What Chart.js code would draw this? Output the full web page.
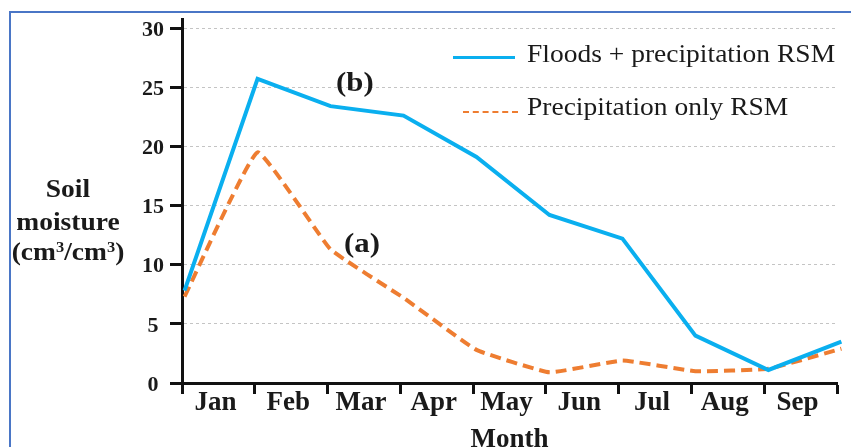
<!DOCTYPE html>
<html>
<head>
<meta charset="utf-8">
<title>Soil moisture by month</title>
<script src="https://cdn.jsdelivr.net/npm/chart.js@4.4.1/dist/chart.umd.min.js"></script>
<style>
  html, body { margin: 0; padding: 0; background: #fff; overflow: hidden; }
  #stage {
    position: relative; width: 851px; height: 447px; overflow: hidden; background: #fff;
    font-family: "Liberation Serif", "Times New Roman", serif; color: #1a1a1a;
  }
  #frame {
    position: absolute; left: 9px; top: 11px; width: 900px; height: 500px;
    border-left: 2px solid #4a76c6; border-top: 2px solid #4a76c6;
  }
  #plot { position: absolute; left: 0; top: 0; width: 900px; height: 480px; }
  .t {
    position: absolute; white-space: nowrap; font-size: 25px; line-height: 1;
    transform: scaleX(1.1); transform-origin: left top;
  }
  .b { font-weight: bold; }
  .ytitle { width: 124px; text-align: center; transform-origin: center top; }
  .ytitle sup { font-size: 0.6em; vertical-align: 0.55em; line-height: 0; }
  .ann { font-size: 28px; }
  .swatch { position: absolute; height: 0; }
</style>
</head>
<body>
<div id="stage">
  <div id="frame"></div>
  <div id="plot"><canvas id="chart"></canvas></div>

  <!-- y-axis title, drawn horizontally in three lines -->
  <div class="t b ytitle" style="left:6px; top:176px;">Soil</div>
  <div class="t b ytitle" style="left:6px; top:209px;">moisture</div>
  <div class="t b ytitle" style="left:6px; top:239px;">(cm<sup>3</sup>/cm<sup>3</sup>)</div>

  <!-- curve labels -->
  <div class="t b ann" style="left:336px; top:68px;">(b)</div>
  <div class="t b ann" style="left:344px; top:229px;">(a)</div>

  <!-- legend -->
  <div class="swatch" style="left:453px; top:56px; width:62px; border-top:3px solid #0AAFEF;"></div>
  <div class="t" style="left:527px; top:41px;">Floods + precipitation RSM</div>
  <div class="swatch" style="left:463px; top:111px; width:55px; border-top:2px dashed #EE7D31;"></div>
  <div class="t" style="left:527px; top:94px;">Precipitation only RSM</div>
</div>

<script>
// Month categories shown along the x axis
const months = ['Jan', 'Feb', 'Mar', 'Apr', 'May', 'Jun', 'Jul', 'Aug', 'Sep'];
// Months at which soil moisture was sampled (the series run one month further)
const sampleMonths = ['Jan', 'Feb', 'Mar', 'Apr', 'May', 'Jun', 'Jul', 'Aug', 'Sep', 'Oct'];
// Remotely sensed soil moisture, cm3/cm3
const floodsRSM = [7.8, 25.7, 23.4, 22.6, 19.1, 14.2, 12.2, 4.0, 1.1, 3.5];
const precipRSM = [7.3, 19.5, 11.3, 7.2, 2.8, 0.9, 1.9, 1.0, 1.2, 2.9];
// y-axis tick values
const yTicks = [0, 5, 10, 15, 20, 25, 30];

const SERIF = '"Liberation Serif", "Times New Roman", serif';
const INK = '#1a1a1a';

const toPoints = values => values.map((v, i) => ({ x: i, y: v, month: sampleMonths[i] }));

new Chart(document.getElementById('chart'), {
  type: 'line',
  data: {
    datasets: [
      {
        label: 'Floods + precipitation RSM',
        data: toPoints(floodsRSM),
        xAxisID: 'xd', yAxisID: 'y',
        borderColor: '#0AAFEF', borderWidth: 4,
        pointRadius: 0, tension: 0, clip: false
      },
      {
        label: 'Precipitation only RSM',
        data: toPoints(precipRSM),
        xAxisID: 'xd', yAxisID: 'y',
        borderColor: '#EE7D31', borderWidth: 4, borderDash: [11, 6],
        pointRadius: 0, tension: 0.1, clip: false
      }
    ]
  },
  options: {
    responsive: true,
    maintainAspectRatio: false,
    animation: false,
    devicePixelRatio: 1,
    layout: { padding: { left: 0, top: 16, right: 63, bottom: 0 } },
    plugins: { legend: { display: false }, tooltip: { enabled: false } },
    scales: {
      // hidden numeric axis that positions the monthly samples
      xd: {
        type: 'linear', display: false, position: 'bottom',
        min: -0.035, max: 8.94
      },
      // visible month axis: labels sit between the tick marks
      x: {
        type: 'category', labels: months, position: 'bottom', offset: true,
        grid: {
          offset: true, drawOnChartArea: false, drawTicks: true,
          tickLength: 11, tickWidth: 3, tickColor: '#111'
        },
        border: { display: true, width: 3, color: '#111' },
        ticks: {
          font: { family: SERIF, size: 27, weight: 'bold' }, color: INK,
          padding: -7, labelOffset: -3, maxRotation: 0, autoSkip: false
        },
        title: {
          display: true, text: 'Month', color: INK,
          font: { family: SERIF, size: 27, weight: 'bold' },
          padding: { top: 0, bottom: 24 }
        },
        afterFit: s => { s.height = 97; }
      },
      y: {
        type: 'linear', position: 'left', min: 0, max: 30.75,
        afterBuildTicks: s => { s.ticks = yTicks.map(v => ({ value: v })); },
        grid: {
          color: c => (c.tick && c.tick.value === 0) ? 'rgba(0,0,0,0)' : '#c4c4c4',
          lineWidth: 1, drawTicks: true, tickLength: 12, tickWidth: 3, tickColor: '#111'
        },
        border: { display: true, width: 3, color: '#111', dash: [3, 3] },
        ticks: {
          font: { family: SERIF, size: 22, weight: 'bold' }, color: INK,
          padding: 6, crossAlign: 'center', labelOffset: 2
        },
        afterFit: s => { s.width = 182; }
      }
    }
  }
});
</script>
</body>
</html>
